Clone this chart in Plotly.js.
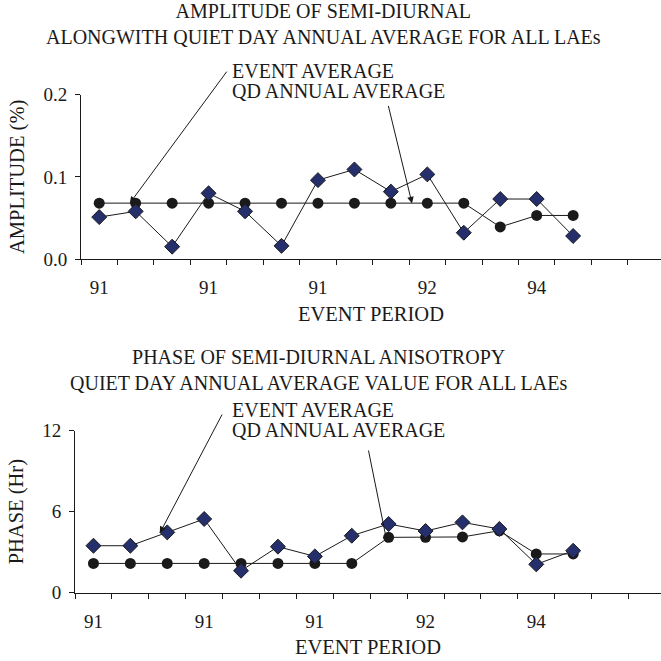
<!DOCTYPE html>
<html>
<head>
<meta charset="utf-8">
<script src="https://cdn.plot.ly/plotly-3.0.1.min.js"></script>
<style>html,body{margin:0;padding:0;background:#fff;}#chart{width:661px;height:661px;}</style>
</head>
<body>
<div id="chart"></div>
<script>
// ---- data ----
const eventIndex = [1, 2, 3, 4, 5, 6, 7, 8, 9, 10, 11, 12, 13, 14];
const ampEvent = [0.051, 0.058, 0.015, 0.080, 0.058, 0.016, 0.096, 0.109, 0.082, 0.103, 0.032, 0.073, 0.073, 0.028];
const ampQD    = [0.068, 0.068, 0.068, 0.068, 0.068, 0.068, 0.068, 0.068, 0.068, 0.068, 0.068, 0.039, 0.053, 0.053];
const phaseEvent = [3.48, 3.48, 4.47, 5.46, 1.63, 3.41, 2.69, 4.22, 5.09, 4.57, 5.21, 4.72, 2.10, 3.11];
const phaseQD    = [2.17, 2.17, 2.17, 2.17, 2.17, 2.17, 2.17, 2.17, 4.10, 4.10, 4.13, 4.59, 2.87, 2.87];
const tickPos = [1, 4, 7, 10, 13];
const tickLabels = ['91', '91', '91', '92', '94'];
const ampTicks = [0, 0.1, 0.2];
const phaseTicks = [0, 6, 12];

const W = 661, H = 661;
const FONT = 'Liberation Serif, Times New Roman, serif';
const INK = '#1a1a1a';
const NAVY = '#252f6c';

function evTrace(y, xa, ya) {
  return {x: eventIndex, y: y, xaxis: xa, yaxis: ya, type: 'scatter', mode: 'lines+markers',
    name: 'EVENT AVERAGE', line: {color: INK, width: 1},
    marker: {symbol: 'diamond', size: 11.5, color: NAVY, line: {color: INK, width: 1}}};
}
function qdTrace(y, xa, ya) {
  return {x: eventIndex, y: y, xaxis: xa, yaxis: ya, type: 'scatter', mode: 'lines+markers',
    name: 'QD ANNUAL AVERAGE', line: {color: INK, width: 1},
    marker: {symbol: 'circle', size: 11, color: INK, line: {color: INK, width: 0}}};
}
const data = [qdTrace(ampQD, 'x', 'y'), evTrace(ampEvent, 'x', 'y'),
              qdTrace(phaseQD, 'x2', 'y2'), evTrace(phaseEvent, 'x2', 'y2')];

function xAxis(dom, rng, anchor) {
  return {domain: dom, range: rng, anchor: anchor, tickmode: 'array', tickvals: tickPos, ticktext: tickLabels,
    ticks: '', showline: true, linecolor: INK, linewidth: 1, showgrid: false, zeroline: false,
    tickfont: {family: FONT, size: 19, color: INK}, ticklabelstandoff: 11,
    minor: {tickmode: 'linear', tick0: 0.5, dtick: 1, ticks: 'outside', ticklen: 5, tickcolor: INK, tickwidth: 1, showgrid: false},
    title: {text: 'EVENT PERIOD', font: {family: FONT, size: 20.5, color: INK}, standoff: 9}};
}
function yAxis(dom, rng, vals, fmt, title, anchor) {
  return {domain: dom, range: rng, anchor: anchor, tickmode: 'array', tickvals: vals, tickformat: fmt,
    ticks: 'outside', ticklen: 5, tickcolor: INK, showline: true, linecolor: INK, linewidth: 1,
    showgrid: false, zeroline: false, tickfont: {family: FONT, size: 19, color: INK}, ticklabelstandoff: 4,
    title: {text: title, font: {family: FONT, size: 20.5, color: INK}, standoff: 13}};
}

const layout = {
  width: W, height: H, margin: {l: 0, r: 0, t: 0, b: 0},
  paper_bgcolor: '#fff', plot_bgcolor: '#fff', showlegend: false,
  font: {family: FONT, color: INK},
  xaxis: xAxis([81 / W, 1], [0.5, 16.41], 'y'),
  yaxis: yAxis([1 - 259 / H, 1 - 94.7 / H], [0, 0.2], ampTicks, '.1f', 'AMPLITUDE (%)', 'x'),
  xaxis2: xAxis([75 / W, 1], [0.5, 16.38], 'y2'),
  yaxis2: yAxis([1 - 592.7 / H, 1 - 430.7 / H], [0, 12], phaseTicks, 'd', 'PHASE (Hr)', 'x2'),
  annotations: []
};

function textAnn(txt, xpx, ypx, anchor, size) {
  return {text: txt, xref: 'paper', yref: 'paper', x: xpx / W, y: 1 - ypx / H, xanchor: anchor, yanchor: 'middle',
    align: anchor === 'left' ? 'left' : 'center', showarrow: false, font: {family: FONT, size: size, color: INK}};
}
function arrowAnn(xa, ya, x, y, ax, ay) {
  return {text: '', xref: xa, yref: ya, x: x, y: y, ax: ax, ay: ay, showarrow: true,
    arrowhead: 2, arrowsize: 1.3, arrowwidth: 1, arrowcolor: INK, standoff: 0};
}
layout.annotations.push(
  textAnn('AMPLITUDE OF SEMI-DIURNAL<br>ALONGWITH QUIET DAY ANNUAL AVERAGE FOR ALL LAEs', 323, 23.5, 'center', 20),
  textAnn('PHASE OF SEMI-DIURNAL ANISOTROPY<br>QUIET DAY ANNUAL AVERAGE VALUE FOR ALL LAEs', 318, 370, 'center', 20),
  textAnn('EVENT AVERAGE', 230, 70.5, 'left', 20),
  textAnn('QD ANNUAL AVERAGE', 230, 90.5, 'left', 20),
  textAnn('EVENT AVERAGE', 230, 410, 'left', 20),
  textAnn('QD ANNUAL AVERAGE', 230, 430, 'left', 20),
  arrowAnn('x', 'y', 1.84, 0.068, 98, -133),
  arrowAnn('x', 'y', 9.58, 0.0677, -24, -99),
  arrowAnn('x2', 'y2', 2.80, 4.42, 63, -120),
  arrowAnn('x2', 'y2', 8.96, 3.68, -19, -94)
);

Plotly.newPlot('chart', data, layout, {displayModeBar: false, staticPlot: true});
</script>
</body>
</html>
